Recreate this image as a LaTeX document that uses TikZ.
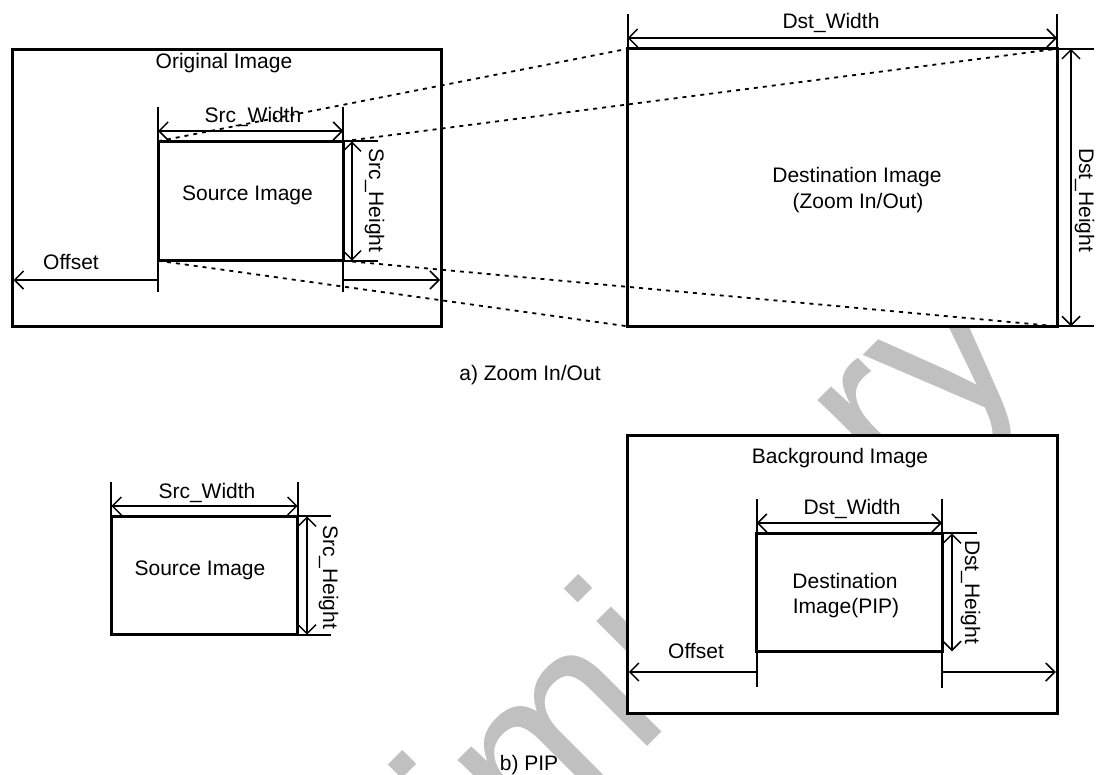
\documentclass[tikz,border=0pt]{standalone}
\usepackage{fontspec}
\setmainfont{Liberation Sans}
\usetikzlibrary{arrows.meta}
\definecolor{wmgray}{RGB}{192,192,192}
\begin{document}
\begin{tikzpicture}[x=1pt,y=-1pt,
  every node/.style={inner sep=0pt, font=\fontsize{21}{25}\selectfont},
  box/.style={draw=black, line width=3pt, fill=white},
  ext/.style={line width=2pt},
  barb/.tip={Straight Barb[length=9pt,width=18pt,line width=1.5pt]},
  dimboth/.style={line width=2pt, barb-barb},
  dimend/.style={line width=2pt, -barb},
  proj/.style={line width=1.8pt, dash pattern=on 4pt off 5pt},
  lbl/.style={anchor=base},
  vlbl/.style={anchor=base, rotate=-90},
  wm/.style={text=wmgray, font=\fontsize{235}{240}\selectfont, rotate=45, anchor=center}
]
\useasboundingbox (0,0) rectangle (1097,774);
\clip (0,0) rectangle (1097,774);

% watermark
\node[wm] (wmark) at (575,733) {Preliminary};

% ---------- a) Zoom In/Out ----------
\coordinate (oTL) at (12,49.5);   \coordinate (oBR) at (441.5,326.5);
\coordinate (sTL) at (158,141.3); \coordinate (sTR) at (343.3,141.3);
\coordinate (sBL) at (158,260.7); \coordinate (sBR) at (343.3,260.7);
\coordinate (dTL) at (627.5,48.8); \coordinate (dTR) at (1057,48.8);
\coordinate (dBL) at (627.5,326.3); \coordinate (dBR) at (1057,326.3);

\draw[box] (oTL) rectangle (oBR);
\draw[box] (sTL) rectangle (sBR);
\draw[box] (dTL) rectangle (dBR);

\node[lbl] (origtxt) at (224,68) {Original Image};
\node[lbl] (srctxt) at (247.5,200) {Source Image};
\node[lbl] (dsttxt1) at (857,182) {Destination Image};
\node[lbl] (dsttxt2) at (858,208) {(Zoom In/Out)};

% Src_Width
\coordinate (swL) at (158,107); \coordinate (swR) at (343.3,107);
\coordinate (swaL) at (158,131); \coordinate (swaR) at (343.3,131);
\draw[ext] (swL) -- (sTL);
\draw[ext] (swR) -- (sTR);
\draw[dimboth] (swaL) -- (swaR);
\node[lbl] (swtxt) at (253,122) {Src\_Width};

% Src_Height
\coordinate (shT) at (378,141.3); \coordinate (shB) at (378,260.7);
\coordinate (shaT) at (352,141.3); \coordinate (shaB) at (352,260.7);
\draw[ext] (sTR) -- (shT);
\draw[ext] (sBR) -- (shB);
\draw[dimboth] (shaT) -- (shaB);
\node[vlbl] (shtxt) at (369,200.5) {Src\_Height};

% Offset
\coordinate (ofL) at (158,292); \coordinate (ofR) at (343.3,292);
\coordinate (ofaL) at (13.5,280); \coordinate (ofaM) at (158,280);
\coordinate (ofaM2) at (343.3,280); \coordinate (ofaR) at (440,280);
\draw[ext] (sBL) -- (ofL);
\draw[ext] (sBR) -- (ofR);
\draw[dimend] (ofaM) -- (ofaL);
\draw[dimend] (ofaM2) -- (ofaR);
\node[lbl] (oftxt) at (71,269) {Offset};

% Dst_Width
\coordinate (dwL) at (627.5,14); \coordinate (dwR) at (1057,14);
\coordinate (dwaL) at (627.5,38); \coordinate (dwaR) at (1057,38);
\draw[ext] (dwL) -- (dTL);
\draw[ext] (dwR) -- (dTR);
\draw[dimboth] (dwaL) -- (dwaR);
\node[lbl] (dwtxt) at (831,28) {Dst\_Width};

% Dst_Height
\coordinate (dhT) at (1094,48.8); \coordinate (dhB) at (1094,326.3);
\coordinate (dhaT) at (1071,48.8); \coordinate (dhaB) at (1071,326.3);
\draw[ext] (dTR) -- (dhT);
\draw[ext] (dBR) -- (dhB);
\draw[dimboth] (dhaT) -- (dhaB);
\node[vlbl] (dhtxt) at (1079,200) {Dst\_Height};

% projection lines
\draw[proj] (sTL) -- (dTL);
\draw[proj] (sTR) -- (dTR);
\draw[proj] (sBR) -- (dBR);
\draw[proj] (sBL) -- (dBL);

\node[lbl] (capa) at (530,380.5) {a) Zoom In/Out};

% ---------- b) PIP ----------
\coordinate (pTL) at (111.3,516.3); \coordinate (pTR) at (297.7,516.3);
\coordinate (pBR) at (297.7,634.7);
\coordinate (bTL) at (627.3,435.3); \coordinate (bBR) at (1057.3,713.3);
\coordinate (qTL) at (756.7,533.3); \coordinate (qTR) at (942,533.3);
\coordinate (qBL) at (756.7,651.3); \coordinate (qBR) at (942,651.3);

\draw[box] (pTL) rectangle (pBR);
\draw[box] (bTL) rectangle (bBR);
\draw[box] (qTL) rectangle (qBR);

\node[lbl] (psrctxt) at (200,575) {Source Image};
\node[lbl] (bgtxt) at (840,463) {Background Image};
\node[lbl] (pip1) at (845,588) {Destination};
\node[lbl] (pip2) at (846,613) {Image(PIP)};

% Src_Width (b)
\coordinate (pwL) at (111.3,482); \coordinate (pwR) at (297.7,482);
\coordinate (pwaL) at (111.3,506); \coordinate (pwaR) at (297.7,506);
\draw[ext] (pwL) -- (pTL);
\draw[ext] (pwR) -- (pTR);
\draw[dimboth] (pwaL) -- (pwaR);
\node[lbl] (pwtxt) at (207,498) {Src\_Width};

% Src_Height (b)
\coordinate (phT) at (331,516.3); \coordinate (phB) at (331,634.7);
\coordinate (phaT) at (307,516.3); \coordinate (phaB) at (307,634.7);
\draw[ext] (pTR) -- (phT);
\draw[ext] (pBR) -- (phB);
\draw[dimboth] (phaT) -- (phaB);
\node[vlbl] (phtxt) at (323,577) {Src\_Height};

% Dst_Width (b)
\coordinate (qwL) at (756.7,499); \coordinate (qwR) at (942,499);
\coordinate (qwaL) at (756.7,523); \coordinate (qwaR) at (942,523);
\draw[ext] (qwL) -- (qTL);
\draw[ext] (qwR) -- (qTR);
\draw[dimboth] (qwaL) -- (qwaR);
\node[lbl] (qwtxt) at (852,514) {Dst\_Width};

% Dst_Height (b)
\coordinate (qhT) at (977,533.3);
\coordinate (qhaT) at (952,533.3); \coordinate (qhaB) at (952,651.3);
\draw[ext] (qTR) -- (qhT);
\draw[dimboth] (qhaT) -- (qhaB);
\node[vlbl] (qhtxt) at (965,592) {Dst\_Height};

% Offset (b)
\coordinate (qoL) at (756.7,687); \coordinate (qoR) at (942,688);
\coordinate (qoaL) at (628.8,672); \coordinate (qoaM) at (756.7,672);
\coordinate (qoaM2) at (942,672); \coordinate (qoaR) at (1055.8,672);
\draw[ext] (qBL) -- (qoL);
\draw[ext] (qBR) -- (qoR);
\draw[dimend] (qoaM) -- (qoaL);
\draw[dimend] (qoaM2) -- (qoaR);
\node[lbl] (qoftxt) at (696,658) {Offset};

\node[lbl] (capb) at (529,770) {b) PIP};
\end{tikzpicture}
\end{document}
